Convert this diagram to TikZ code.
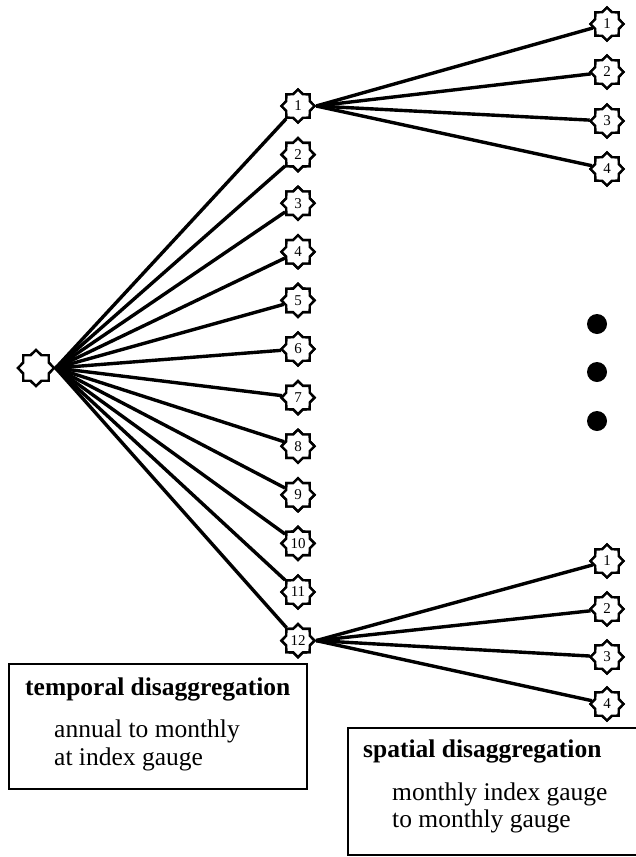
\documentclass[tikz,border=0pt]{standalone}
\usepackage{fontspec}
\setmainfont{Liberation Serif}
\usetikzlibrary{shapes.geometric}
\begin{document}
\begin{tikzpicture}[x=1pt,y=-1pt,
  starnode/.style={star, star points=8, star point ratio=1.3, draw, line width=2.4pt,
    fill=white, inner sep=0pt, minimum size=33pt, font=\fontsize{15}{15}\selectfont},
  conn/.style={line width=3.4pt},
  boxtitle/.style={anchor=base west, inner sep=0pt, font=\fontsize{25.5}{28}\selectfont\bfseries},
  boxtext/.style={anchor=base west, inner sep=0pt, font=\fontsize{25.5}{28}\selectfont},
  framebox/.style={draw, line width=2pt},
  dot/.style={circle, fill=black, inner sep=0pt, minimum size=20pt}]
\useasboundingbox (0,0) rectangle (636,857);
% named nodes
\node[starnode, minimum size=36pt] (root) at (36,368) {};
\foreach \i in {1,...,12}{
  \pgfmathsetmacro{\yy}{106+(\i-1)*48.6}
  \node[starnode] (m\i) at (298,\yy) {\i};
}
\foreach \i/\yy in {1/24,2/72,3/121,4/169}{
  \node[starnode] (a\i) at (607,\yy) {\i};
}
\foreach \i/\yy in {1/561,2/609,3/657,4/704}{
  \node[starnode] (b\i) at (607,\yy) {\i};
}
% connectors
\foreach \i in {1,...,12}{
  \draw[conn] (root.east) -- (m\i);
}
\foreach \i in {1,...,4}{
  \draw[conn] (m1.east) -- (a\i);
  \draw[conn] (m12.east) -- (b\i);
}
% redraw stars on top of the connectors
\node[starnode, minimum size=36pt] at (36,368) {};
\foreach \i in {1,...,12}{
  \pgfmathsetmacro{\yy}{106+(\i-1)*48.6}
  \node[starnode] at (298,\yy) {\i};
}
\foreach \i/\yy in {1/24,2/72,3/121,4/169}{
  \node[starnode] at (607,\yy) {\i};
}
\foreach \i/\yy in {1/561,2/609,3/657,4/704}{
  \node[starnode] at (607,\yy) {\i};
}
% dots
\node[dot] (d1) at (597,324) {};
\node[dot] (d2) at (597,372) {};
\node[dot] (d3) at (597,421) {};
% boxes
\draw[framebox] (9,664) rectangle (307,789);
\node[boxtitle] (t1) at (25,695) {temporal disaggregation};
\node[boxtext] (t2) at (54,737) {annual to monthly};
\node[boxtext] (t3) at (54,765) {at index gauge};
\draw[framebox] (348,728) rectangle (645,855);
\node[boxtitle] (s1) at (363,757) {spatial disaggregation};
\node[boxtext] (s2) at (392,800) {monthly index gauge};
\node[boxtext] (s3) at (392,827) {to monthly gauge};
\end{tikzpicture}
\end{document}
